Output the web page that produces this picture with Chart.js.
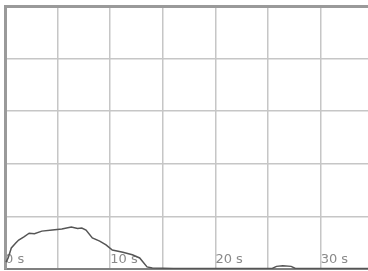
<!DOCTYPE html>
<html>
<head>
<meta charset="utf-8">
<script src="https://cdn.jsdelivr.net/npm/chart.js@4.4.1/dist/chart.umd.min.js"></script>
<style>
  html, body { margin: 0; padding: 0; background: #fff; }
  #wrap { width: 368px; height: 271px; }
</style>
</head>
<body>
<div id="wrap"><canvas id="c" width="368" height="271"></canvas></div>
<script>
// tempo em segundos e valor
const times = [0.1, 0.3, 0.6, 1.0, 1.3, 1.8, 2.3, 2.8, 3.5, 4.5, 5.4, 6.3, 6.9, 7.3, 7.7, 8.3, 9.0, 9.6, 10.2, 11.2, 12.1, 12.8, 13.5, 14.0, 16.0, 20.0, 25.4, 25.8, 26.4, 27.2, 27.6, 30.0, 34.5];
const values = [0.13, 0.21, 0.40, 0.49, 0.55, 0.61, 0.68, 0.67, 0.72, 0.74, 0.76, 0.80, 0.77, 0.78, 0.74, 0.59, 0.53, 0.46, 0.36, 0.32, 0.27, 0.21, 0.04, 0.02, 0.01, 0.01, 0.01, 0.05, 0.06, 0.05, 0.01, 0.01, 0.01];
const xTicks = [0, 10, 20, 30]; // rótulos mostrados

const xMax = 34.5;
const points = times.map((t, i) => ({ x: t, y: values[i] }));

new Chart("c", {
  type: "line",
  data: {
    datasets: [{
      data: points,
      borderColor: "#555555",
      borderWidth: 1.5,
      pointRadius: 0,
      tension: 0,
      fill: false
    }]
  },
  options: {
    responsive: false,
    animation: false,
    plugins: { legend: { display: false }, tooltip: { enabled: false } },
    layout: { padding: { left: 5, top: 6, right: 0, bottom: 2 } },
    scales: {
      x: {
        type: "linear",
        min: 0,
        max: xMax,
        afterBuildTicks: (scale) => { scale.ticks = scale.ticks.filter(t => t.value % 5 === 0); },
        afterFit: (scale) => { scale.height = 0; },
        border: { display: true, color: "#808080", width: 2 },
        grid: { drawTicks: false, lineWidth: 1.5, color: "#c6c6c6" },
        ticks: {
          stepSize: 5,
          mirror: true,
          align: "start",
          padding: 2,
          maxRotation: 0,
          autoSkip: false,
          color: "#8a8a8a",
          font: { family: "DejaVu Sans", size: 13 },
          callback: (v) => xTicks.includes(v) ? v + " s" : ""
        }
      },
      y: {
        min: 0,
        max: 5,
        border: { display: true, color: "#9a9a9a", width: 3 },
        grid: {
          drawTicks: false,
          lineWidth: (ctx) => ctx.tick && ctx.tick.value === 5 ? 3 : 1.5,
          color: (ctx) => ctx.tick && ctx.tick.value === 5 ? "#9a9a9a" : "#c6c6c6"
        },
        ticks: { display: false, stepSize: 1 }
      }
    }
  }
});
</script>
</body>
</html>
